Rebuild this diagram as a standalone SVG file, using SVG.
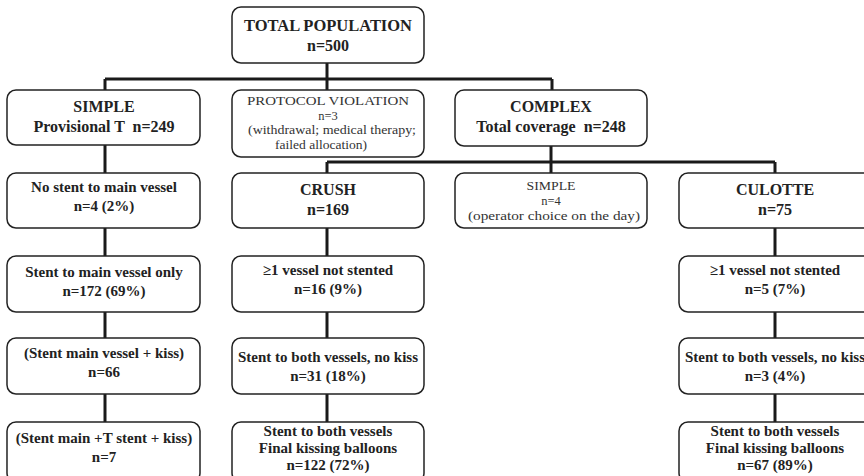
<svg xmlns="http://www.w3.org/2000/svg" width="864" height="476" viewBox="0 0 864 476">
<style>
.box{fill:#fff;stroke:#222;stroke-width:1.5}
.t{font-family:'Liberation Serif','DejaVu Serif','Noto Serif',serif;font-weight:bold;font-size:15px;fill:#222;text-anchor:middle}
.h{font-size:16px}
.g{font-family:'Liberation Serif','DejaVu Serif','Noto Serif',serif;font-size:12.5px;fill:#333;text-anchor:middle}
.c{fill:none;stroke:#1a1a1a;stroke-width:3}
</style>
<rect width="864" height="476" fill="#fff"/>
<g id="connectors">
<path class="c" d="M327 63V79M105 79H552M105 79V90M327 79V90M552 79V90"/>
<path class="c" d="M105 145V173M105 228V256M105 312V338M105 394V422"/>
<path class="c" d="M551 146V162M327 162H775M327 162V173M551 162V173M775 162V173"/>
<path class="c" d="M327 228V256M327 312V338M327 394V422"/>
<path class="c" d="M775 228V256M775 312V338M775 394V422"/>
</g>
<g id="total"><rect class="box" x="232" y="7" width="192" height="56" rx="9"/>
<text class="t h" x="328" y="31" textLength="168" lengthAdjust="spacingAndGlyphs">TOTAL POPULATION</text><text class="t h" x="328" y="51">n=500</text></g>
<g id="simple"><rect class="box" x="7" y="90" width="193" height="55" rx="9"/>
<text class="t h" x="104" y="112">SIMPLE</text><text class="t h" x="104" y="132" xml:space="preserve">Provisional T  n=249</text></g>
<g id="protocol"><rect class="box" x="232" y="90" width="192" height="67" rx="9"/>
<text class="g" x="328" y="105" textLength="162" lengthAdjust="spacingAndGlyphs">PROTOCOL VIOLATION</text><text class="g" x="328" y="119.5">n=3</text>
<text class="g" x="332" y="134" textLength="168" lengthAdjust="spacingAndGlyphs">(withdrawal; medical therapy;</text><text class="g" x="321" y="149" textLength="92" lengthAdjust="spacingAndGlyphs">failed allocation)</text></g>
<g id="complex"><rect class="box" x="455" y="90" width="192" height="56" rx="9"/>
<text class="t h" x="551" y="112">COMPLEX</text><text class="t h" x="551" y="132" xml:space="preserve">Total coverage  n=248</text></g>
<g id="nostent"><rect class="box" x="7" y="173" width="193" height="55" rx="9"/>
<text class="t" x="104" y="192">No stent to main vessel</text><text class="t" x="104" y="211">n=4 (2%)</text></g>
<g id="crush"><rect class="box" x="232" y="173" width="192" height="55" rx="9"/>
<text class="t h" x="328" y="195">CRUSH</text><text class="t h" x="328" y="215">n=169</text></g>
<g id="simple2"><rect class="box" x="455" y="173" width="192" height="55" rx="9"/>
<text class="g" x="551" y="190" textLength="49" lengthAdjust="spacingAndGlyphs">SIMPLE</text><text class="g" x="551" y="204.5">n=4</text><text class="g" x="554" y="219.5" textLength="172" lengthAdjust="spacingAndGlyphs">(operator choice on the day)</text></g>
<g id="culotte"><rect class="box" x="679" y="173" width="193" height="55" rx="9"/>
<text class="t h" x="775" y="195">CULOTTE</text><text class="t h" x="775" y="215">n=75</text></g>
<g id="mainonly"><rect class="box" x="7" y="256" width="193" height="56" rx="9"/>
<text class="t" x="104" y="277">Stent to main vessel only</text><text class="t" x="104" y="296">n=172 (69%)</text></g>
<g id="crush1"><rect class="box" x="232" y="256" width="192" height="56" rx="9"/>
<text class="t" x="328" y="275">≥1 vessel not stented</text><text class="t" x="328" y="294">n=16 (9%)</text></g>
<g id="cul1"><rect class="box" x="679" y="256" width="193" height="56" rx="9"/>
<text class="t" x="775" y="275">≥1 vessel not stented</text><text class="t" x="775" y="294">n=5 (7%)</text></g>
<g id="mainkiss"><rect class="box" x="7" y="338" width="193" height="56" rx="9"/>
<text class="t" x="104" y="358">(Stent main vessel + kiss)</text><text class="t" x="104" y="377">n=66</text></g>
<g id="crush2"><rect class="box" x="232" y="338" width="192" height="56" rx="9"/>
<text class="t" x="328" y="362">Stent to both vessels, no kiss</text><text class="t" x="328" y="381">n=31 (18%)</text></g>
<g id="cul2"><rect class="box" x="679" y="338" width="193" height="56" rx="9"/>
<text class="t" x="775" y="362">Stent to both vessels, no kiss</text><text class="t" x="775" y="381">n=3 (4%)</text></g>
<g id="tstent"><rect class="box" x="7" y="422" width="193" height="60" rx="9"/>
<text class="t" x="104" y="443">(Stent main +T stent + kiss)</text><text class="t" x="104" y="462">n=7</text></g>
<g id="crush3"><rect class="box" x="232" y="422" width="192" height="60" rx="9"/>
<text class="t" x="328" y="436">Stent to both vessels</text><text class="t" x="328" y="453">Final kissing balloons</text><text class="t" x="328" y="470">n=122 (72%)</text></g>
<g id="cul3"><rect class="box" x="679" y="422" width="193" height="60" rx="9"/>
<text class="t" x="775" y="436">Stent to both vessels</text><text class="t" x="775" y="453">Final kissing balloons</text><text class="t" x="775" y="470">n=67 (89%)</text></g>
</svg>
